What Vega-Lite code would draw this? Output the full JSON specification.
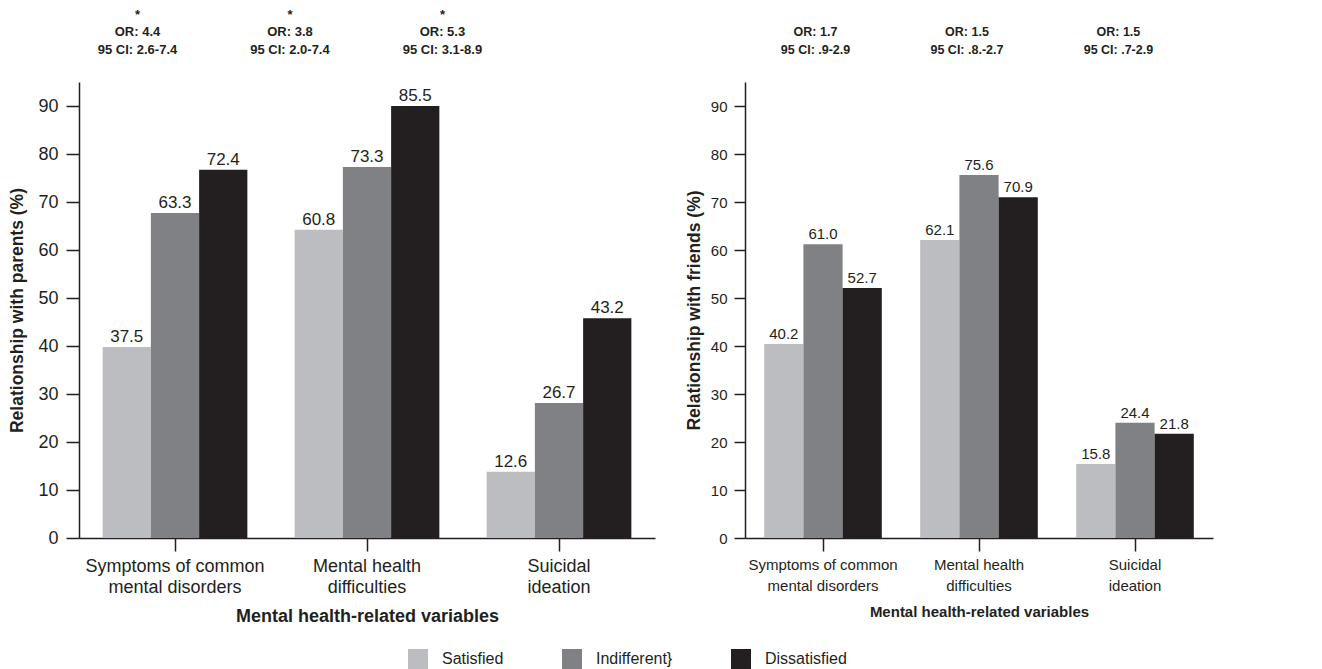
{
  "$schema": "https://vega.github.io/schema/vega-lite/v6.json",
  "background": "white",
  "padding": {"left": 8, "top": 8, "right": 5, "bottom": 0},
  "config": {
    "view": {"stroke": null},
    "font": "Liberation Sans",
    "axis": {"grid": false, "domainColor": "#231f20", "tickColor": "#231f20", "labelColor": "#231f20", "titleColor": "#231f20", "domainWidth": 1.5, "tickWidth": 1.5}
  },
  "datasets": {
    "parents": [
      {"variable": "Symptoms of common mental disorders", "relationship": "Satisfied", "bar": 39.8, "label": 37.5},
      {"variable": "Symptoms of common mental disorders", "relationship": "Indifferent}", "bar": 67.7, "label": 63.3},
      {"variable": "Symptoms of common mental disorders", "relationship": "Dissatisfied", "bar": 76.7, "label": 72.4},
      {"variable": "Mental health difficulties", "relationship": "Satisfied", "bar": 64.2, "label": 60.8},
      {"variable": "Mental health difficulties", "relationship": "Indifferent}", "bar": 77.3, "label": 73.3},
      {"variable": "Mental health difficulties", "relationship": "Dissatisfied", "bar": 90.0, "label": 85.5},
      {"variable": "Suicidal ideation", "relationship": "Satisfied", "bar": 13.8, "label": 12.6},
      {"variable": "Suicidal ideation", "relationship": "Indifferent}", "bar": 28.1, "label": 26.7},
      {"variable": "Suicidal ideation", "relationship": "Dissatisfied", "bar": 45.8, "label": 43.2}
    ],
    "friends": [
      {"variable": "Symptoms of common mental disorders", "relationship": "Satisfied", "bar": 40.4, "label": 40.2},
      {"variable": "Symptoms of common mental disorders", "relationship": "Indifferent}", "bar": 61.2, "label": 61.0},
      {"variable": "Symptoms of common mental disorders", "relationship": "Dissatisfied", "bar": 52.1, "label": 52.7},
      {"variable": "Mental health difficulties", "relationship": "Satisfied", "bar": 62.1, "label": 62.1},
      {"variable": "Mental health difficulties", "relationship": "Indifferent}", "bar": 75.6, "label": 75.6},
      {"variable": "Mental health difficulties", "relationship": "Dissatisfied", "bar": 71.0, "label": 70.9},
      {"variable": "Suicidal ideation", "relationship": "Satisfied", "bar": 15.4, "label": 15.8},
      {"variable": "Suicidal ideation", "relationship": "Indifferent}", "bar": 24.0, "label": 24.4},
      {"variable": "Suicidal ideation", "relationship": "Dissatisfied", "bar": 21.7, "label": 21.8}
    ],
    "annotParents": [
      {"annotation": "*\nOR: 4.4\n95 CI: 2.6-7.4"},
      {"annotation": "*\nOR: 3.8\n95 CI: 2.0-7.4"},
      {"annotation": "*\nOR: 5.3\n95 CI: 3.1-8.9"}
    ],
    "annotFriends": [
      {"annotation": "OR: 1.7\n95 CI: .9-2.9"},
      {"annotation": "OR: 1.5\n95 CI: .8.-2.7"},
      {"annotation": "OR: 1.5\n95 CI: .7-2.9"}
    ]
  },
  "spacing": 30,
  "resolve": {"scale": {"xOffset": "independent"}},
  "hconcat": [
    {
      "width": 576,
      "height": 456,
      "layer": [
        {
          "data": {"name": "parents"},
          "encoding": {
            "x": {
              "field": "variable", "type": "nominal",
              "sort": ["Symptoms of common mental disorders", "Mental health difficulties", "Suicidal ideation"],
              "scale": {"paddingInner": 0, "paddingOuter": 0},
              "axis": {
                "title": "Mental health-related variables", "titleFontSize": 18, "titleFontWeight": "bold", "titlePadding": 11,
                "labelFontSize": 18, "labelAngle": 0, "tickSize": 13, "labelPadding": 6, "labelLineHeight": 21,
                "labelExpr": "datum.value == 'Symptoms of common mental disorders' ? ['Symptoms of common', 'mental disorders'] : datum.value == 'Mental health difficulties' ? ['Mental health', 'difficulties'] : ['Suicidal', 'ideation']"
              }
            },
            "xOffset": {"field": "relationship", "type": "nominal", "sort": ["Satisfied", "Indifferent}", "Dissatisfied"], "scale": {"paddingInner": 0, "paddingOuter": 0.49}},
            "y": {
              "field": "bar", "type": "quantitative",
              "scale": {"domain": [0, 95], "nice": false},
              "axis": {"title": "Relationship with parents (%)", "titleFontSize": 17.5, "titleFontWeight": "bold", "titlePadding": 11, "values": [0, 10, 20, 30, 40, 50, 60, 70, 80, 90], "labelFontSize": 18, "tickSize": 13, "labelPadding": 8}
            }
          },
          "layer": [
            {
              "mark": {"type": "bar"},
              "encoding": {
                "color": {
                  "field": "relationship", "type": "nominal",
                  "scale": {"domain": ["Satisfied", "Indifferent}", "Dissatisfied"], "range": ["#bcbdc0", "#808184", "#231f20"]},
                  "legend": {"title": null, "orient": "none", "legendX": 329, "legendY": 567, "direction": "horizontal", "symbolType": "square", "symbolSize": 400, "symbolStrokeWidth": 0, "symbolOpacity": 1, "labelFontSize": 16, "labelOffset": 14, "columnPadding": 58, "labelColor": "#231f20"}
                }
              }
            },
            {
              "mark": {"type": "text", "baseline": "alphabetic", "dy": -5, "fontSize": 17, "color": "#231f20"},
              "encoding": {"text": {"field": "label", "type": "quantitative", "format": ".1f"}}
            }
          ]
        },
        {
          "data": {"name": "annotParents"},
          "mark": {"type": "text", "text": ""},
          "encoding": {
            "x": {
              "field": "annotation", "type": "nominal", "sort": null,
              "scale": {"type": "point", "padding": 0.889, "align": 0.214},
              "axis": {"orient": "top", "title": null, "domain": false, "ticks": false, "labelBaseline": "top", "labelPadding": 74, "labelFontSize": 13, "labelFontWeight": "bold", "labelLineHeight": 17.5, "labelAngle": 0, "labelExpr": "split(datum.value, '\\n')"}
            }
          }
        }
      ],
      "resolve": {"scale": {"x": "independent"}, "axis": {"x": "independent"}}
    },
    {
      "width": 468,
      "height": 456,
      "layer": [
        {
          "data": {"name": "friends"},
          "encoding": {
            "x": {
              "field": "variable", "type": "nominal",
              "sort": ["Symptoms of common mental disorders", "Mental health difficulties", "Suicidal ideation"],
              "scale": {"paddingInner": 0, "paddingOuter": 0},
              "axis": {
                "title": "Mental health-related variables", "titleFontSize": 15, "titleFontWeight": "bold", "titlePadding": 11,
                "labelFontSize": 15, "labelAngle": 0, "tickSize": 13, "labelPadding": 6, "labelLineHeight": 21,
                "labelExpr": "datum.value == 'Symptoms of common mental disorders' ? ['Symptoms of common', 'mental disorders'] : datum.value == 'Mental health difficulties' ? ['Mental health', 'difficulties'] : ['Suicidal', 'ideation']"
              }
            },
            "xOffset": {"field": "relationship", "type": "nominal", "sort": ["Satisfied", "Indifferent}", "Dissatisfied"], "scale": {"paddingInner": 0, "paddingOuter": 0.49}},
            "y": {
              "field": "bar", "type": "quantitative",
              "scale": {"domain": [0, 95], "nice": false},
              "axis": {"title": "Relationship with friends (%)", "titleFontSize": 17.5, "titleFontWeight": "bold", "titlePadding": 7, "values": [0, 10, 20, 30, 40, 50, 60, 70, 80, 90], "labelFontSize": 15, "tickSize": 11, "labelPadding": 7}
            }
          },
          "layer": [
            {
              "mark": {"type": "bar"},
              "encoding": {
                "color": {
                  "field": "relationship", "type": "nominal",
                  "scale": {"domain": ["Satisfied", "Indifferent}", "Dissatisfied"], "range": ["#bcbdc0", "#808184", "#231f20"]},
                  "legend": {"title": null, "orient": "none", "legendX": 329, "legendY": 567, "direction": "horizontal", "symbolType": "square", "symbolSize": 400, "symbolStrokeWidth": 0, "symbolOpacity": 1, "labelFontSize": 16, "labelOffset": 14, "columnPadding": 58, "labelColor": "#231f20"}
                }
              }
            },
            {
              "mark": {"type": "text", "baseline": "alphabetic", "dy": -5, "fontSize": 15, "color": "#231f20"},
              "encoding": {"text": {"field": "label", "type": "quantitative", "format": ".1f"}}
            }
          ]
        },
        {
          "data": {"name": "annotFriends"},
          "mark": {"type": "text", "text": ""},
          "encoding": {
            "x": {
              "field": "annotation", "type": "nominal", "sort": null,
              "scale": {"type": "point", "padding": 0.545, "align": 0.424},
              "axis": {"orient": "top", "title": null, "domain": false, "ticks": false, "labelBaseline": "top", "labelPadding": 74, "labelFontSize": 12.5, "labelFontWeight": "bold", "labelLineHeight": 17.5, "labelAngle": 0, "labelExpr": "split(' \\n' + datum.value, '\\n')"}
            }
          }
        }
      ],
      "resolve": {"scale": {"x": "independent"}, "axis": {"x": "independent"}}
    }
  ]
}
